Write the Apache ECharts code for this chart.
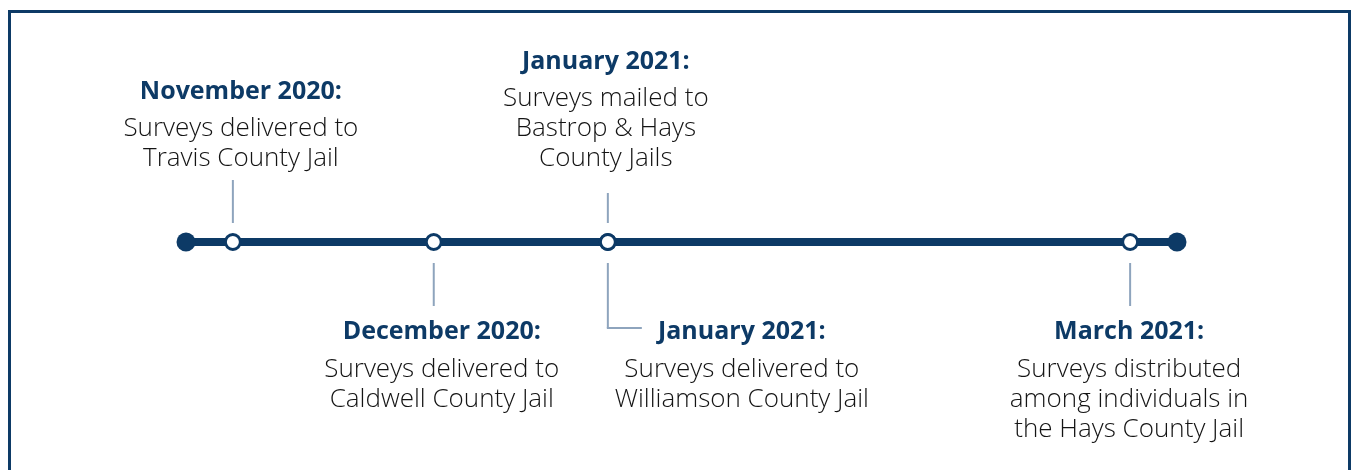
<!DOCTYPE html>
<html>
<head>
<meta charset="utf-8">
<script src="https://cdn.jsdelivr.net/npm/echarts@6/dist/echarts.min.js"></script>
<style>
  html, body { margin: 0; padding: 0; background: #fff; }
  #chart { width: 1351px; height: 470px; }
</style>
</head>
<body>
<div id="chart"></div>
<script>
// timeline span and events (dates)
var axisStart = '2020-11-03';
var axisEnd = '2021-03-31';
var eventDates = ['2020-11-10', '2020-12-10', '2021-01-05', '2021-01-05', '2021-03-24'];
var eventTitles = ['November 2020:', 'December 2020:', 'January 2021:', 'January 2021:', 'March 2021:'];
var eventTexts = [
    ['Surveys delivered to', 'Travis County Jail'],
    ['Surveys delivered to', 'Caldwell County Jail'],
    ['Surveys mailed to', 'Bastrop & Hays', 'County Jails'],
    ['Surveys delivered to', 'Williamson County Jail'],
    ['Surveys distributed', 'among individuals in', 'the Hays County Jail']
];

// layout for the callouts
var side = ['up', 'down', 'up', 'down', 'down'];
var stemLen = [43, 43, 30, 65, 43];
var labelDx = [8, 8, -2, 134, -1];

var navy = '#0d3a66';
var stemColor = '#8ea4bd';
var titleFont = 'bold 25px "Open Sans"';
var bodyFont = '300 26px "Open Sans"';
var lineH = 30;

function renderEvent(params, api) {
    var i = api.value(2);
    var p = api.coord([api.value(0), 0]);
    var x = p[0], y = p[1];
    var children = [];
    var lines = eventTexts[i];
    var tx = x + labelDx[i];
    var titleY, bodyTop;
    if (side[i] === 'up') {
        var y0 = y - 19;
        children.push({ type: 'line', shape: { x1: x, y1: y0, x2: x, y2: y0 - stemLen[i] },
            style: { stroke: stemColor, lineWidth: 2 } });
        bodyTop = y - 68 - lines.length * lineH;
        titleY = bodyTop - 22;
    } else {
        var y1 = y + 21;
        children.push({ type: 'line', shape: { x1: x, y1: y1, x2: x, y2: y1 + stemLen[i] },
            style: { stroke: stemColor, lineWidth: 2 } });
        if (labelDx[i] > 60) {
            children.push({ type: 'line', shape: { x1: x - 1, y1: y1 + stemLen[i], x2: x + 34, y2: y1 + stemLen[i] },
                style: { stroke: stemColor, lineWidth: 2 } });
        }
        titleY = y + 90;
        bodyTop = titleY + 23;
    }
    children.push({ type: 'text', x: tx, y: titleY,
        style: { text: eventTitles[i], font: titleFont, fill: navy, align: 'center', verticalAlign: 'middle' } });
    children.push({ type: 'text', x: tx, y: bodyTop,
        style: { text: lines.join('\n'), font: bodyFont, fill: '#141414', align: 'center',
            verticalAlign: 'top', lineHeight: lineH } });
    return { type: 'group', children: children };
}

var option = {
    animation: false,
    grid: { left: 186, right: 174, top: 42, bottom: 28 },
    xAxis: { type: 'time', min: axisStart, max: axisEnd, show: false },
    yAxis: { type: 'value', min: -1, max: 1, show: false },
    graphic: [{
        type: 'rect', silent: true,
        shape: { x: 9.5, y: 11.5, width: 1340, height: 500 },
        style: { fill: 'none', stroke: navy, lineWidth: 3 }
    }],
    series: [
        {
            type: 'line',
            data: [[axisStart, 0], [axisEnd, 0]],
            symbol: 'circle',
            symbolSize: 19,
            itemStyle: { color: navy },
            lineStyle: { color: navy, width: 8 },
            silent: true,
            z: 2
        },
        {
            type: 'scatter',
            data: eventDates.map(function (d) { return [d, 0]; }),
            symbol: 'circle',
            symbolSize: 15,
            itemStyle: { color: '#fff', borderColor: navy, borderWidth: 3, opacity: 1 },
            silent: true,
            z: 3
        },
        {
            type: 'custom',
            data: eventDates.map(function (d, i) { return [d, 0, i]; }),
            renderItem: renderEvent,
            silent: true,
            z: 4
        }
    ]
};

var chart = echarts.init(document.getElementById('chart'));
chart.setOption(option);
</script>
</body>
</html>
